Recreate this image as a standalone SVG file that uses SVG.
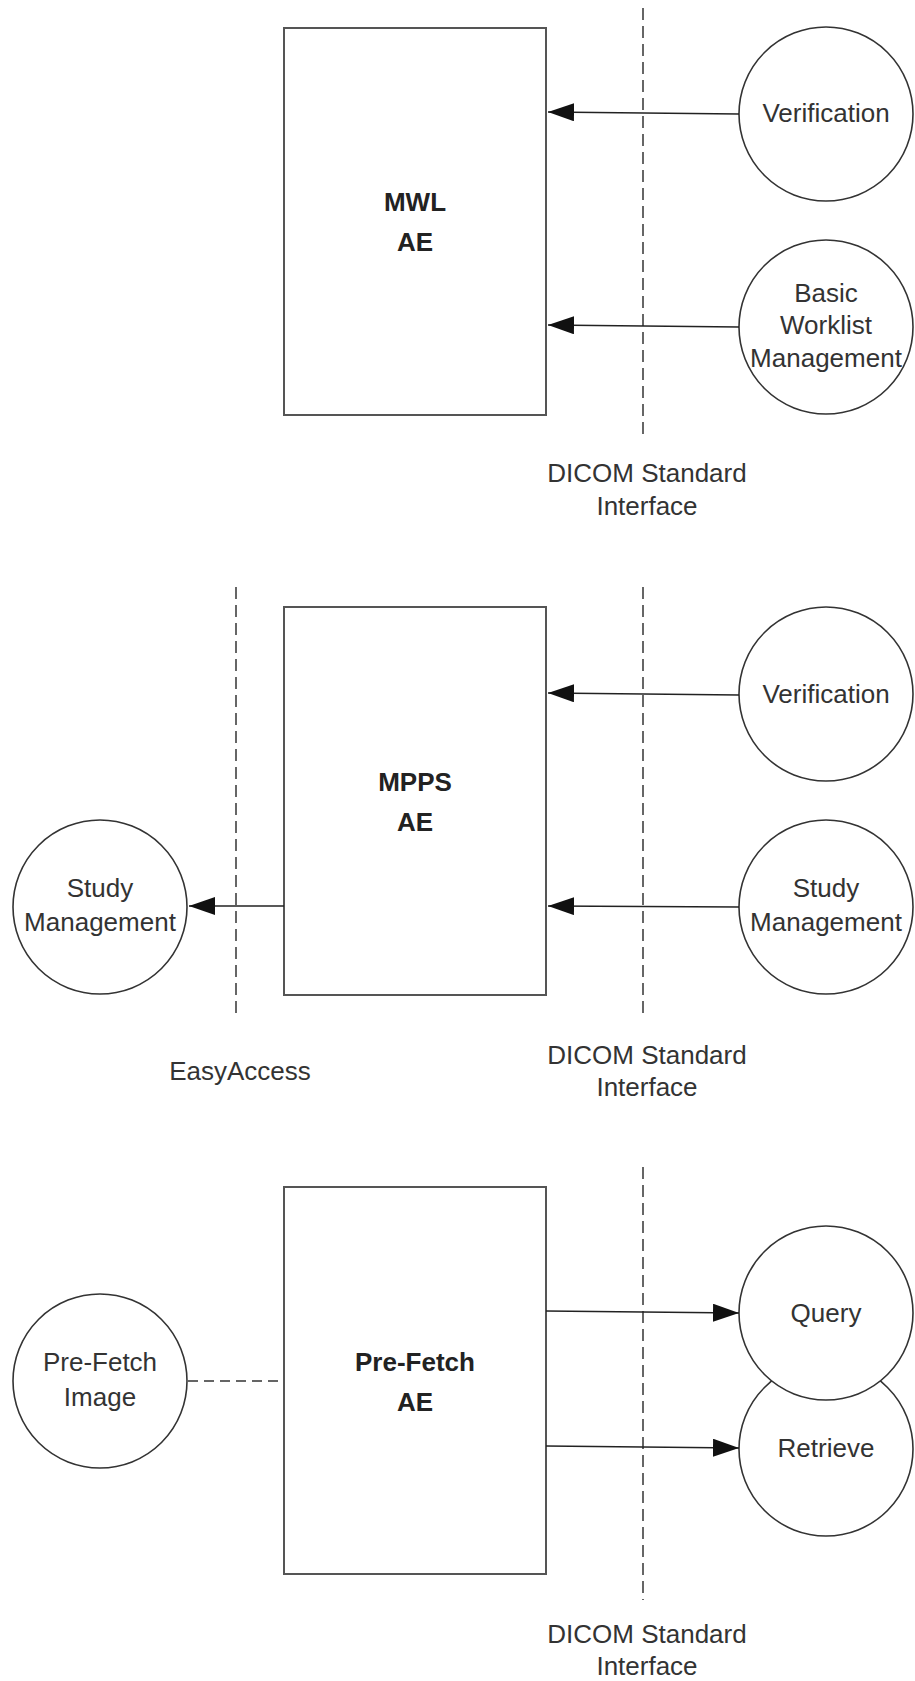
<svg xmlns="http://www.w3.org/2000/svg" width="915" height="1681" viewBox="0 0 915 1681">
<defs>
<marker id="ah" viewBox="0 0 26 18" refX="26" refY="9" markerWidth="26" markerHeight="18" markerUnits="userSpaceOnUse" orient="auto">
<path d="M0,0 L26,9 L0,18 Z" fill="#111"/>
</marker>
</defs>
<style>
.box{fill:#fff;stroke:#555;stroke-width:2}
.circ{fill:#fff;stroke:#333;stroke-width:1.6}
.t{font-family:"Liberation Sans",Arial,sans-serif;font-size:26px;fill:#333;text-anchor:middle}
.b{font-weight:bold;fill:#222}
.arrow{stroke:#222;stroke-width:1.6;fill:none;marker-end:url(#ah)}
.bound{stroke:#666;stroke-width:2;stroke-dasharray:12 6;fill:none}
.dash{stroke:#333;stroke-width:1.6;stroke-dasharray:10 6;fill:none}
</style>
<rect width="915" height="1681" fill="#fff"/>

<g id="boundaries">
<line class="bound" x1="643" y1="8" x2="643" y2="440"/>
<line class="bound" x1="643" y1="587" x2="643" y2="1017"/>
<line class="bound" x1="236" y1="587" x2="236" y2="1017"/>
<line class="bound" x1="643" y1="1167" x2="643" y2="1600"/>
</g>

<g id="labels">
<text class="t" x="647" y="482">DICOM Standard</text>
<text class="t" x="647" y="515">Interface</text>
<text class="t" x="647" y="1064">DICOM Standard</text>
<text class="t" x="647" y="1096">Interface</text>
<text class="t" x="240" y="1080">EasyAccess</text>
<text class="t" x="647" y="1643">DICOM Standard</text>
<text class="t" x="647" y="1675">Interface</text>
</g>

<g id="mwl-ae">
<rect class="box" x="284" y="28" width="262" height="387"/>
<text class="t b" x="415" y="211">MWL</text>
<text class="t b" x="415" y="251">AE</text>
</g>
<g id="mwl-verification">
<circle class="circ" cx="826" cy="114" r="87"/>
<text class="t" x="826" y="122">Verification</text>
</g>
<g id="mwl-worklist">
<circle class="circ" cx="826" cy="327" r="87"/>
<text class="t" x="826" y="302">Basic</text>
<text class="t" x="826" y="334">Worklist</text>
<text class="t" x="826" y="367">Management</text>
</g>

<g id="mpps-ae">
<rect class="box" x="284" y="607" width="262" height="388"/>
<text class="t b" x="415" y="791">MPPS</text>
<text class="t b" x="415" y="831">AE</text>
</g>
<g id="mpps-verification">
<circle class="circ" cx="826" cy="694" r="87"/>
<text class="t" x="826" y="703">Verification</text>
</g>
<g id="mpps-study-right">
<circle class="circ" cx="826" cy="907" r="87"/>
<text class="t" x="826" y="897">Study</text>
<text class="t" x="826" y="931">Management</text>
</g>
<g id="mpps-study-left">
<circle class="circ" cx="100" cy="907" r="87"/>
<text class="t" x="100" y="897">Study</text>
<text class="t" x="100" y="931">Management</text>
</g>

<g id="prefetch-ae">
<rect class="box" x="284" y="1187" width="262" height="387"/>
<text class="t b" x="415" y="1371">Pre-Fetch</text>
<text class="t b" x="415" y="1411">AE</text>
</g>
<g id="prefetch-image">
<circle class="circ" cx="100" cy="1381" r="87"/>
<text class="t" x="100" y="1371">Pre-Fetch</text>
<text class="t" x="100" y="1406">Image</text>
</g>
<g id="retrieve">
<circle class="circ" cx="826" cy="1449" r="87"/>
<text class="t" x="826" y="1457">Retrieve</text>
</g>
<g id="query">
<circle class="circ" cx="826" cy="1313" r="87"/>
<text class="t" x="826" y="1322">Query</text>
</g>

<g id="connectors">
<line class="arrow" x1="739" y1="114" x2="548" y2="112"/>
<line class="arrow" x1="739" y1="327" x2="548" y2="325"/>
<line class="arrow" x1="739" y1="695" x2="548" y2="693"/>
<line class="arrow" x1="739" y1="907" x2="548" y2="906"/>
<line class="arrow" x1="284" y1="906" x2="189" y2="906"/>
<line class="arrow" x1="546" y1="1311" x2="739" y2="1313"/>
<line class="arrow" x1="546" y1="1446" x2="739" y2="1448"/>
<line class="dash" x1="188" y1="1381" x2="284" y2="1381"/>
</g>
</svg>
